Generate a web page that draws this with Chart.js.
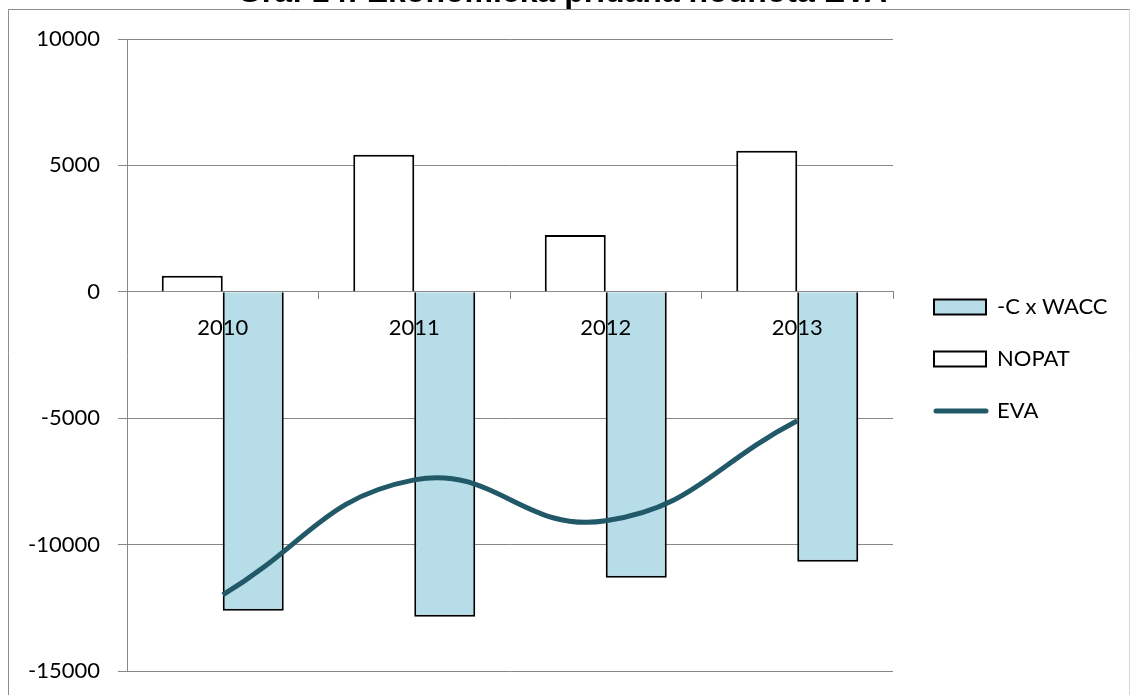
<!DOCTYPE html>
<html>
<head>
<meta charset="utf-8">
<script src="https://cdn.jsdelivr.net/npm/chart.js@4/dist/chart.umd.min.js"></script>
<style>
  body { margin: 0; background: #fff; }
  #wrap { width: 1132px; height: 695px; }
</style>
</head>
<body>
<div id="wrap"><canvas id="evaChart" width="1132" height="695"></canvas></div>
<script>
// EVA = NOPAT - C x WACC, by year
const years = ["2010", "2011", "2012", "2013"];
const nopat = [630, 5420, 2250, 5580];
const capitalCharge = [-12620, -12850, -11310, -10680];
const eva = [-11990, -7440, -9060, -5100];

const chartTitle = "Graf 14: Ekonomická přidaná hodnota EVA";
const legendOrder = ["-C x WACC", "NOPAT", "EVA"];

const evaColor = "#215968";
const gridColor = "#878787";
const labelFont = { family: "Lato", size: 22 };

// frame, title, legend placement and the EVA legend line
const decor = {
  id: "decor",
  beforeLayout(chart) {
    const lg = chart.legend;
    if (lg && !lg._fixedWidth) {
      const fit = lg.fit;
      lg.fit = function () {
        fit.call(this);
        this.width = 239;
      };
      lg._fixedWidth = true;
    }
  },
  afterLayout(chart) {
    const lg = chart.legend;
    lg.left = 904;
    lg.top = 266;
  },
  beforeDraw(chart) {
    const ctx = chart.ctx;
    ctx.save();
    ctx.lineWidth = 1;
    ctx.strokeStyle = "#8c8c8c";
    ctx.beginPath();
    ctx.moveTo(8.5, 695);
    ctx.lineTo(8.5, 9.5);
    ctx.lineTo(1129.5, 9.5);
    ctx.stroke();
    ctx.strokeStyle = "#d9d9d9";
    ctx.beginPath();
    ctx.moveTo(1129.5, 10);
    ctx.lineTo(1129.5, 695);
    ctx.stroke();
    ctx.restore();
  },
  afterDraw(chart) {
    const ctx = chart.ctx;
    ctx.save();
    ctx.fillStyle = "#000";
    ctx.font = 'bold 32px "Liberation Sans", Arial, sans-serif';
    ctx.textAlign = "center";
    ctx.textBaseline = "alphabetic";
    ctx.fillText(chartTitle, 562, 2);

    const lg = chart.legend;
    const i = lg.legendItems.findIndex(it => it.text === "EVA");
    const hb = lg.legendHitBoxes[i];
    if (hb) {
      const y = hb.top + 11;
      ctx.strokeStyle = evaColor;
      ctx.lineWidth = 5;
      ctx.lineCap = "round";
      ctx.beginPath();
      ctx.moveTo(hb.left + 2, y);
      ctx.lineTo(hb.left + 52, y);
      ctx.stroke();
    }
    ctx.restore();
  }
};

new Chart(document.getElementById("evaChart").getContext("2d"), {
  type: "bar",
  data: {
    labels: years,
    datasets: [
      {
        label: "NOPAT",
        data: nopat,
        backgroundColor: "#ffffff",
        borderColor: "#000000",
        borderWidth: 2,
        order: 1,
      },
      {
        label: "-C x WACC",
        data: capitalCharge,
        backgroundColor: "#b7dee8",
        borderColor: "#000000",
        borderWidth: 2,
        order: 1,
      },
      {
        type: "line",
        label: "EVA",
        data: eva,
        borderColor: evaColor,
        backgroundColor: "transparent",
        borderWidth: 5,
        tension: 0.45,
        pointRadius: 0,
        fill: false,
        order: 0,
      },
    ],
  },
  options: {
    responsive: false,
    animation: false,
    events: [],
    layout: { padding: { top: 39, bottom: 24, left: 0, right: 0 } },
    datasets: {
      bar: { categoryPercentage: 0.637, barPercentage: 1.0 },
    },
    plugins: {
      title: { display: false },
      tooltip: { enabled: false },
      legend: {
        position: "right",
        align: "start",
        labels: {
          font: labelFont,
          color: "#000",
          boxWidth: 52,
          boxHeight: 15,
          padding: 30,
          sort: (a, b) => legendOrder.indexOf(a.text) - legendOrder.indexOf(b.text),
          generateLabels(chart) {
            const items = Chart.defaults.plugins.legend.labels.generateLabels(chart);
            items.forEach(it => {
              if (it.text === "EVA") {
                it.fillStyle = "transparent";
                it.strokeStyle = "transparent";
                it.lineWidth = 0;
              }
            });
            return items;
          },
        },
      },
    },
    scales: {
      x: {
        position: { y: 0 },
        offset: true,
        grid: {
          drawOnChartArea: false,
          drawTicks: true,
          tickLength: 7,
          tickColor: gridColor,
          offset: true,
        },
        border: { display: true, color: gridColor, width: 1 },
        ticks: { font: labelFont, color: "#000", padding: 16, maxRotation: 0, z: 1 },
      },
      y: {
        min: -15000,
        max: 10000,
        afterFit(scale) {
          scale.width = 127;
          scale.paddingTop = 14;
          scale.paddingBottom = 14;
        },
        grid: {
          color: gridColor,
          lineWidth: 1,
          tickLength: 9,
          tickColor: gridColor,
        },
        border: { display: true, color: gridColor, width: 1 },
        ticks: {
          stepSize: 5000,
          font: labelFont,
          color: "#000",
          padding: 18,
          callback: v => String(v),
        },
      },
    },
  },
  plugins: [decor],
});
</script>
</body>
</html>
